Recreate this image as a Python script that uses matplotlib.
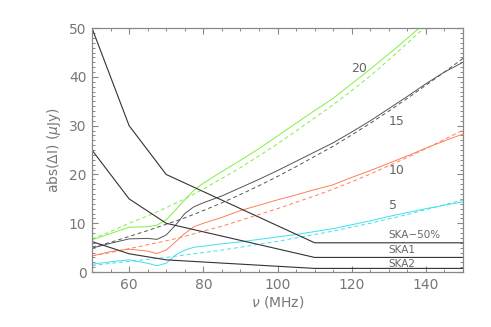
import numpy as np
import matplotlib
matplotlib.use("Agg")
import matplotlib.pyplot as plt

# frequency grid (MHz) the curves were read on
freq = [50, 55, 60, 65, 67.5, 70, 72.5, 75, 77.5, 80, 85, 90, 95, 100, 105,
        110, 115, 120, 125, 130, 135, 140, 145, 150]
freq_d = [50, 55, 60, 65, 70, 75, 80, 85, 90, 95, 100, 105, 110, 115, 120,
          125, 130, 135, 140, 145, 150]

# solid curves (with the wiggle around 65-75 MHz)
green_solid = [6.6, 7.9, 9.2, 9.3, 9.6, 10.7, 12.7, 14.8, 16.8, 18.2, 20.6, 22.9,
               25.3, 27.9, 30.5, 33.1, 35.6, 38.6, 41.6, 44.7, 47.9, 51.2, 54.5, 58.0]
gray_solid = [4.9, 5.9, 6.8, 6.9, 6.7, 7.6, 9.6, 12.0, 13.4, 14.2, 15.6, 17.3,
              19.0, 20.8, 22.7, 24.6, 26.5, 28.7, 31.0, 33.5, 36.0, 38.6, 41.0, 43.0]
red_solid = [3.3, 4.2, 4.7, 4.3, 3.8, 4.5, 6.2, 7.9, 9.3, 10.0, 11.2, 12.6,
             13.7, 14.8, 15.8, 16.9, 17.9, 19.4, 20.8, 22.3, 23.8, 25.4, 26.9, 28.3]
cyan_solid = [1.6, 2.1, 2.5, 1.8, 1.3, 1.8, 3.5, 4.5, 5.1, 5.3, 5.8, 6.2,
              6.7, 7.2, 7.7, 8.3, 8.9, 9.7, 10.5, 11.4, 12.2, 13.0, 13.7, 14.4]

# dashed (smooth) curves
green_dash = [6.8, 8.3, 10.0, 11.5, 13.2, 15.0, 17.0, 19.2, 21.4, 23.8, 26.3,
              28.9, 31.6, 34.3, 37.2, 40.2, 43.5, 46.9, 50.4, 54.0, 57.6]
gray_dash = [5.1, 6.1, 7.3, 8.5, 9.8, 11.1, 12.6, 14.2, 15.9, 17.7, 19.6,
             21.6, 23.7, 25.8, 28.1, 30.5, 33.0, 35.6, 38.3, 41.0, 43.8]
red_dash = [3.3, 4.0, 4.8, 5.6, 6.4, 7.3, 8.4, 9.4, 10.6, 11.8, 13.0,
            14.3, 15.6, 17.0, 18.5, 20.1, 21.8, 23.5, 25.3, 27.2, 29.1]
cyan_dash = [1.3, 1.8, 2.2, 2.6, 3.0, 3.5, 4.0, 4.5, 5.1, 5.7, 6.3,
             7.0, 7.7, 8.4, 9.2, 10.0, 10.9, 11.8, 12.8, 13.8, 14.8]

# SKA sensitivity lines
ska_freq = [50, 60, 70, 110, 150]
ska_50 = [50, 30, 20, 6, 6]
ska_1 = [25, 15, 10, 3, 3]
ska_2 = [6.25, 3.75, 2.5, 0.75, 0.75]

fig = plt.figure(figsize=(4.91, 3.27), dpi=100)
ax = fig.add_axes([0.1874, 0.168, 0.7556, 0.746])

lw = 0.7
cols = {"green": "#80f040", "gray": "#555555", "red": "#ff7f5a", "cyan": "#40e0f0"}

ax.plot(freq, green_solid, color=cols["green"], lw=lw)
ax.plot(freq_d, green_dash, color=cols["green"], lw=lw, dashes=(4, 3))
ax.plot(freq, gray_solid, color=cols["gray"], lw=lw)
ax.plot(freq_d, gray_dash, color=cols["gray"], lw=lw, dashes=(4, 3))
ax.plot(freq, red_solid, color=cols["red"], lw=lw)
ax.plot(freq_d, red_dash, color=cols["red"], lw=lw, dashes=(4, 3))
ax.plot(freq, cyan_solid, color=cols["cyan"], lw=lw)
ax.plot(freq_d, cyan_dash, color=cols["cyan"], lw=lw, dashes=(4, 3))

for s in (ska_50, ska_1, ska_2):
    ax.plot(ska_freq, s, color="#333333", lw=0.8)

txt = "#666666"
ax.text(122, 41.7, "20", color=txt, fontsize=9, ha="center", va="center")
ax.text(132, 30.8, "15", color=txt, fontsize=9, ha="center", va="center")
ax.text(132, 20.8, "10", color=txt, fontsize=9, ha="center", va="center")
ax.text(131, 13.7, "5", color=txt, fontsize=9, ha="center", va="center")
ax.text(130, 7.6, "SKA\u221250%", color=txt, fontsize=7.5, ha="left", va="center")
ax.text(130, 4.5, "SKA1", color=txt, fontsize=7.5, ha="left", va="center")
ax.text(130, 1.6, "SKA2", color=txt, fontsize=7.5, ha="left", va="center")

ax.set_xlim(50, 150)
ax.set_ylim(0, 50)
ax.set_xticks([60, 80, 100, 120, 140])
ax.set_xticks(np.arange(50, 151, 5), minor=True)
ax.set_yticks([0, 10, 20, 30, 40, 50])
ax.set_yticks(np.arange(0, 51, 1), minor=True)

axcol = "#888888"
for sp in ax.spines.values():
    sp.set_color(axcol)
    sp.set_linewidth(0.9)
ax.tick_params(which="both", direction="in", top=True, right=True, color=axcol,
               labelcolor="#777777", labelsize=10)
ax.tick_params(which="major", length=4.5, width=0.8, pad=4)
ax.tick_params(which="minor", length=2.2, width=0.7)

ax.set_xlabel(r"$\nu$ (MHz)", color="#777777", fontsize=10, labelpad=2)
ax.set_ylabel(r"abs($\Delta$I) ($\mu$Jy)", color="#777777", fontsize=10, labelpad=4)

fig.savefig("out.png", dpi=100)
